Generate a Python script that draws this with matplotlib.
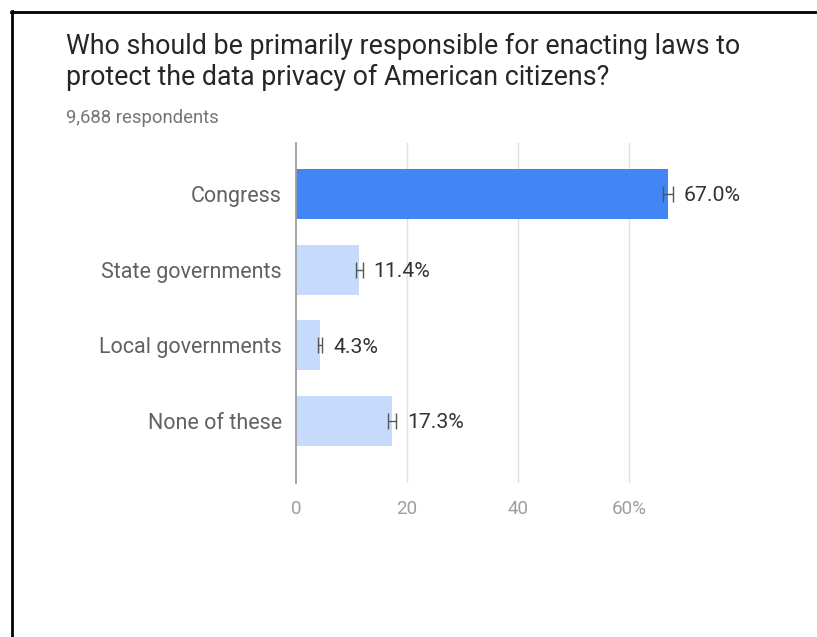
import matplotlib.pyplot as plt
from matplotlib.lines import Line2D

plt.rcParams['font.family'] = ['Roboto', 'DejaVu Sans']

categories = ['Congress', 'State governments', 'Local governments', 'None of these']
values = [67.0, 11.4, 4.3, 17.3]
errors = [0.9, 0.6, 0.4, 0.8]
colors = ['#4285f4', '#c6dafc', '#c6dafc', '#c6dafc']
ticks = [0, 20, 40, 60]
tick_labels = ['0', '20', '40', '60%']

fig = plt.figure(figsize=(8.17, 6.37), dpi=100)
ax = fig.add_axes([296 / 817, 1 - 483 / 637, (684.5 - 296) / 817, 340 / 637])

y = list(range(len(categories)))
ax.barh(y, values, height=0.66, color=colors, zorder=2)
ax.errorbar(values, y, xerr=errors, fmt='none', ecolor='#555555',
            elinewidth=1, capsize=6, capthick=1, zorder=3)

for yi, v, e in zip(y, values, errors):
    ax.text(v + e + 2.0, yi, f'{v:.1f}%', va='center_baseline', ha='left',
            fontsize=15.3, color='#333333', clip_on=False)

ax.set_xlim(0, 70)
ax.set_ylim(3.82, -0.674)
ax.set_yticks(y)
ax.set_yticklabels(categories, fontsize=15.5, color='#616161')
ax.set_xticks(ticks)
ax.set_xticklabels(tick_labels, fontsize=13.5, color='#9e9e9e')
ax.tick_params(length=0, axis='y', pad=10)
ax.tick_params(length=0, axis='x', pad=12)
for s in ['top', 'right', 'bottom']:
    ax.spines[s].set_visible(False)
ax.spines['left'].set_color('#9e9e9e')
ax.spines['left'].set_linewidth(1.3)
ax.spines['left'].set_zorder(4)
for t in ticks[1:]:
    ax.axvline(t, color='#e0e0e0', linewidth=1, zorder=1)

fig.text(66 / 817, 1 - 62 / 637, 'Who should be primarily responsible for enacting laws to\n'
         'protect the data privacy of American citizens?',
         fontsize=19.3, color='#262626', va='center', ha='left', linespacing=1.15)
fig.text(66 / 817, 1 - 118 / 637, '9,688 respondents', fontsize=13.3,
         color='#757575', va='center', ha='left')

# screenshot frame (top and left edges)
fig.add_artist(Line2D([11 / 817, 1], [1 - 12 / 637, 1 - 12 / 637],
                      transform=fig.transFigure, color='black', linewidth=2))
fig.add_artist(Line2D([12 / 817, 12 / 817], [0, 1 - 11 / 637],
                      transform=fig.transFigure, color='black', linewidth=2))

fig.savefig('out.png', dpi=100)
